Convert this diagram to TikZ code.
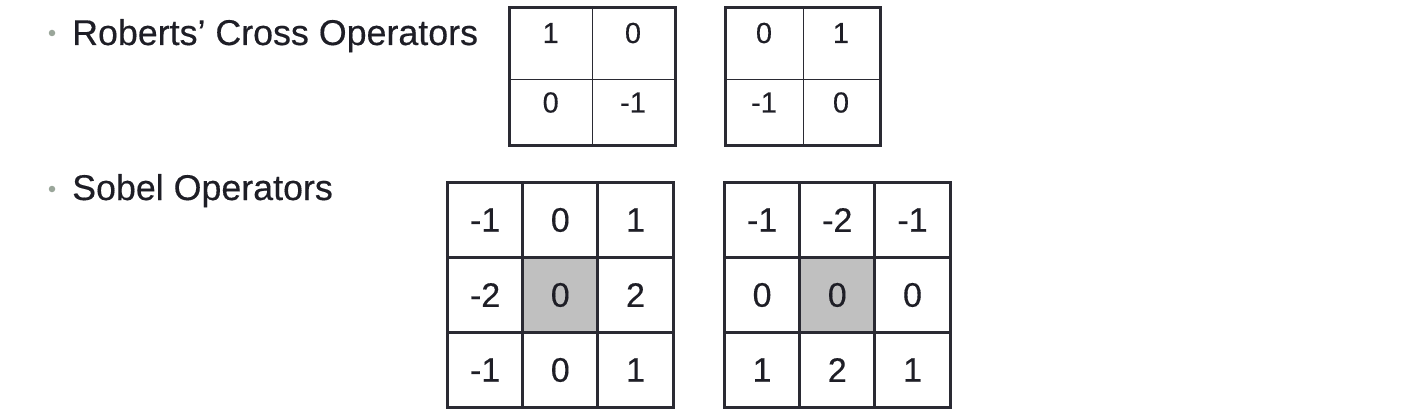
\documentclass[tikz,border=0pt]{standalone}
\usepackage{fontspec}
\setmainfont[FakeBold=0.35]{Liberation Sans}
\definecolor{textc}{HTML}{1E1E26}
\definecolor{linec}{HTML}{2A2A33}
\definecolor{bulc}{HTML}{9AA69A}
\definecolor{midgray}{HTML}{C0C0C0}
\tikzset{
  lbl/.style={anchor=base west, inner sep=0pt, text=textc, font=\fontsize{35.8}{40}\selectfont},
  bul/.style={circle, fill=bulc, inner sep=0pt, minimum size=6.5pt},
  scell/.style={draw=linec, line width=3pt, minimum width=75.2pt, minimum height=75pt, inner sep=0pt, text=textc, font=\fontsize{34}{38}\selectfont},
  rcell/.style={draw=linec, line width=1.3pt, inner sep=0pt, anchor=north west},
  rnum/.style={anchor=base, inner sep=0pt, text=textc, font=\fontsize{29}{32}\selectfont},
  rframe/.style={draw=linec, line width=3pt}
}
\begin{document}
\begin{tikzpicture}[x=1pt,y=-1pt]
\useasboundingbox (0,0) rectangle (1428,420);
\fill[white] (0,0) rectangle (1428,420);
% labels
\node[bul] (b1) at (52,33) {};
\node[lbl] (robl) at (72,45) {Roberts’ Cross Operators};
\node[bul] (b2) at (52,189) {};
\node[lbl] (sobl) at (72,200) {Sobel Operators};
% Roberts operator 1
\node[rcell, minimum width=82.5pt, minimum height=71.5pt] (ra11) at (509.5,7.5) {};
\node[rcell, minimum width=82pt, minimum height=71.5pt] (ra12) at (592,7.5) {};
\node[rcell, minimum width=82.5pt, minimum height=65.5pt] (ra21) at (509.5,79) {};
\node[rcell, minimum width=82pt, minimum height=65.5pt] (ra22) at (592,79) {};
\draw[rframe] (ra11.north west) rectangle (ra22.south east);
\node[rnum] (na11) at (550.7,43) {1};
\node[rnum] (na12) at (633,43) {0};
\node[rnum] (na21) at (550.7,112.5) {0};
\node[rnum] (na22) at (633,112.5) {-1};
% Roberts operator 2
\node[rcell, minimum width=77pt, minimum height=71.5pt] (rb11) at (725.5,7.5) {};
\node[rcell, minimum width=77pt, minimum height=71.5pt] (rb12) at (802.5,7.5) {};
\node[rcell, minimum width=77pt, minimum height=65.5pt] (rb21) at (725.5,79) {};
\node[rcell, minimum width=77pt, minimum height=65.5pt] (rb22) at (802.5,79) {};
\draw[rframe] (rb11.north west) rectangle (rb22.south east);
\node[rnum] (nb11) at (764,43) {0};
\node[rnum] (nb12) at (841,43) {1};
\node[rnum] (nb21) at (764,112.5) {-1};
\node[rnum] (nb22) at (841,112.5) {0};
% Sobel operator 1
\node[scell] (sa11) at (485.1,220) {-1};
\node[scell] (sa12) at (560.3,220) {0};
\node[scell] (sa13) at (635.5,220) {1};
\node[scell] (sa21) at (485.1,295) {-2};
\node[scell, fill=midgray] (sa22) at (560.3,295) {0};
\node[scell] (sa23) at (635.5,295) {2};
\node[scell] (sa31) at (485.1,370) {-1};
\node[scell] (sa32) at (560.3,370) {0};
\node[scell] (sa33) at (635.5,370) {1};
% Sobel operator 2
\node[scell] (sb11) at (762.1,220) {-1};
\node[scell] (sb12) at (837.3,220) {-2};
\node[scell] (sb13) at (912.5,220) {-1};
\node[scell] (sb21) at (762.1,295) {0};
\node[scell, fill=midgray] (sb22) at (837.3,295) {0};
\node[scell] (sb23) at (912.5,295) {0};
\node[scell] (sb31) at (762.1,370) {1};
\node[scell] (sb32) at (837.3,370) {2};
\node[scell] (sb33) at (912.5,370) {1};
\end{tikzpicture}
\end{document}
